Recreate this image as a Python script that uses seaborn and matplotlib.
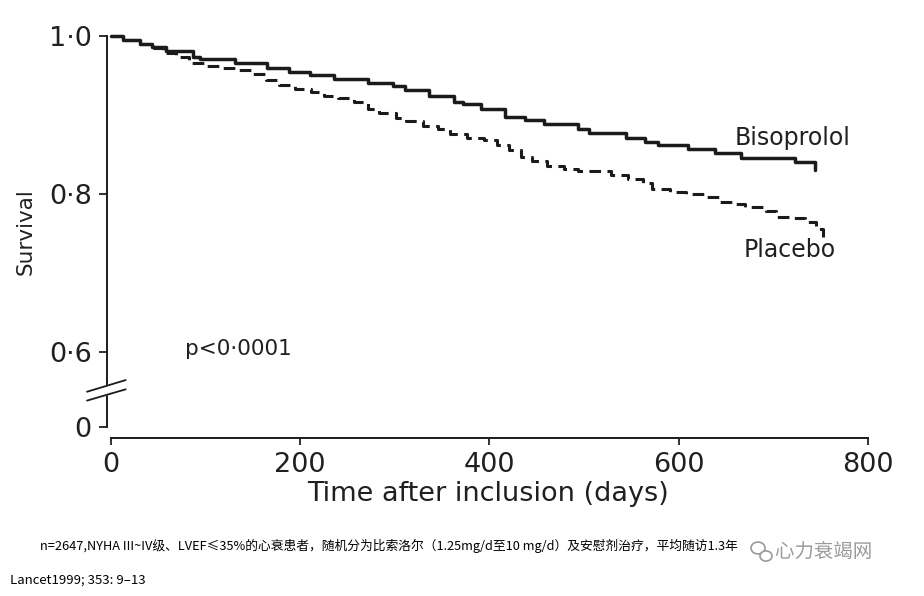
import matplotlib
matplotlib.use("Agg")
import matplotlib.pyplot as plt
import matplotlib.lines as mlines
import matplotlib.patches as mpatches
import matplotlib.patheffects as pe
import pandas as pd
import seaborn as sns

# Kaplan-Meier steps (days, survival)
biso_days = [0, 13, 31, 44, 59, 87, 95, 132, 165, 188, 211, 236, 272, 298, 311, 336,
             363, 372, 391, 417, 438, 458, 494, 505, 544, 565, 578, 610, 638, 666, 723, 744]
biso_surv = [1.0, 0.994, 0.990, 0.986, 0.981, 0.973, 0.970, 0.966, 0.959, 0.954, 0.950,
             0.945, 0.940, 0.936, 0.931, 0.923, 0.916, 0.913, 0.907, 0.897, 0.893, 0.888,
             0.882, 0.877, 0.871, 0.866, 0.861, 0.857, 0.851, 0.845, 0.840, 0.830]

plac_days = [0, 13, 31, 44, 55, 69, 83, 100, 116, 133, 148, 164, 178, 195, 212, 226,
             240, 257, 272, 284, 301, 312, 330, 346, 359, 376, 394, 408, 421, 434, 445,
             461, 479, 494, 529, 547, 562, 572, 591, 608, 628, 644, 658, 670, 692, 703,
             720, 733, 745, 753]
plac_surv = [1.0, 0.994, 0.989, 0.985, 0.978, 0.973, 0.965, 0.962, 0.959, 0.956, 0.951,
             0.944, 0.937, 0.932, 0.929, 0.923, 0.921, 0.916, 0.907, 0.902, 0.896, 0.892,
             0.886, 0.882, 0.875, 0.871, 0.868, 0.862, 0.855, 0.847, 0.841, 0.835, 0.831,
             0.829, 0.824, 0.819, 0.813, 0.806, 0.802, 0.800, 0.796, 0.790, 0.787, 0.783,
             0.778, 0.770, 0.769, 0.764, 0.755, 0.742]

x_ticks = [0, 200, 400, 600, 800]
zero_pos = 0.504  # where "0" sits below the axis break
y_ticks = [zero_pos, 0.6, 0.8, 1.0]
y_labels = ["0", "0·6", "0·8", "1·0"]

caption = "n=2647,NYHA III~IV级、LVEF≤35%的心衰患者，随机分为比索洛尔（1.25mg/d至10 mg/d）及安慰剂治疗，平均随访1.3年"
source = "Lancet1999; 353: 9–13"

biso = pd.DataFrame({"day": biso_days, "surv": biso_surv})
plac = pd.DataFrame({"day": plac_days, "surv": plac_surv})

sns.set_style("ticks")
plt.rcParams["font.family"] = ["DejaVu Sans"]
ink = "#1c1a1a"
txt = "#231f20"

fig = plt.figure(figsize=(9.24, 5.96), dpi=100)
ax = fig.add_axes([110.5 / 924, 1 - 438 / 596, 757.5 / 924, 402.3 / 596])

sns.lineplot(data=biso, x="day", y="surv", ax=ax, color=ink, lw=2.5,
             drawstyle="steps-post", estimator=None, sort=False, clip_on=False)
sns.lineplot(data=plac, x="day", y="surv", ax=ax, color=ink, lw=2.2,
             drawstyle="steps-post", estimator=None, sort=False, clip_on=False,
             linestyle=(0, (3.8, 2.1)))

ax.set_xlim(0, 800)
ax.set_ylim(0.4905, 1.0)
ax.set_xticks(x_ticks)
ax.set_yticks(y_ticks)
ax.set_yticklabels(y_labels)
ax.tick_params(axis="both", labelsize=19.5, colors=txt, width=1.3, length=6, pad=5)
ax.tick_params(axis="x", length=5)

for s in ["top", "right"]:
    ax.spines[s].set_visible(False)
for s in ["left", "bottom"]:
    ax.spines[s].set_color(ink)
    ax.spines[s].set_linewidth(1.4)
ax.spines["left"].set_position(("outward", 2.5))
ax.spines["left"].set_bounds(zero_pos, 1.0)
ax.spines["bottom"].set_bounds(0, 800)

ax.set_xlabel("Time after inclusion (days)", fontsize=19.5, color=txt)
ax.set_ylabel("Survival", fontsize=15.5, color=txt)
ax.xaxis.set_label_coords(0.498, -0.108)
ax.yaxis.set_label_coords(-0.099, 0.512)

# axis break marks
brk = mpatches.Polygon([(-0.031, 0.115), (0.020, 0.144), (0.020, 0.121), (-0.031, 0.093)],
                       closed=True, transform=ax.transAxes, color="white", clip_on=False, zorder=5)
ax.add_patch(brk)
for y0, y1 in [(0.115, 0.144), (0.093, 0.121)]:
    ax.add_line(mlines.Line2D([-0.031, 0.020], [y0, y1], transform=ax.transAxes,
                              color=ink, lw=1.3, clip_on=False, zorder=6))

ax.text(659, 0.870, "Bisoprolol", fontsize=17, color=txt, va="center", ha="left")
ax.text(669, 0.728, "Placebo", fontsize=17, color=txt, va="center", ha="left")
ax.text(79, 0.6037, "p<0·0001", fontsize=15.5, color=txt, va="center", ha="left")

fig.text(40 / 924, 1 - 546 / 596, caption, fontsize=9.2, color="black",
         family=["Noto Sans CJK SC", "DejaVu Sans"], va="center", ha="left")
fig.text(10 / 924, 1 - 580 / 596, source, fontsize=9.5, color="black",
         family=["Noto Sans CJK SC", "DejaVu Sans"], va="center", ha="left")

# watermark
for cx, cy, r in [(758, 548, 7), (766, 556, 6)]:
    fig.add_artist(mpatches.Ellipse((cx / 924, 1 - cy / 596), 2 * r / 924, 1.7 * r / 596,
                                    transform=fig.transFigure, facecolor="white",
                                    edgecolor="#9a9a9a", lw=1.2))
wm = fig.text(775 / 924, 1 - 552 / 596, "心力衰竭网", fontsize=14, color="#9a9a9a",
              family=["Noto Sans CJK SC"], va="center", ha="left")
wm.set_path_effects([pe.withStroke(linewidth=2.5, foreground="white")])

fig.savefig("out.png", dpi=100)
